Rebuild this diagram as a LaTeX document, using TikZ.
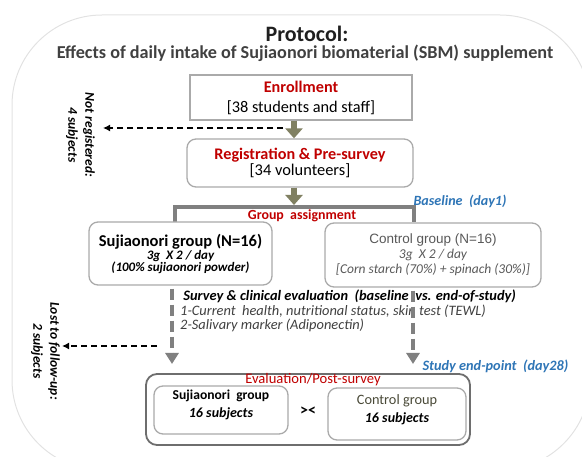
\documentclass[tikz,border=0pt]{standalone}
\usepackage{fontspec}
\setmainfont{Carlito}
\newfontfamily\arialfont{Liberation Sans}
\usetikzlibrary{arrows.meta}
\definecolor{protored}{RGB}{192,0,0}
\definecolor{daysblue}{RGB}{46,117,182}
\definecolor{arrowolive}{RGB}{128,128,98}
\definecolor{bracketgray}{RGB}{128,128,128}
\definecolor{boxgray}{RGB}{170,170,170}
\definecolor{evalgray}{RGB}{110,110,110}
\definecolor{framegray}{RGB}{226,226,226}
\definecolor{titlegray}{RGB}{64,64,64}
\definecolor{controlgray}{RGB}{89,89,89}
\definecolor{contrololive}{RGB}{74,74,56}

\begin{document}
\begin{tikzpicture}[x=1pt,y=-1pt,
    stepbox/.style={draw=boxgray, line width=1.3pt, fill=white, align=center, inner sep=0pt},
    roundbox/.style={stepbox, rounded corners=9pt},
    flowarrow/.style={arrowolive, line width=6pt, -{Triangle[width=17pt,length=10pt]}},
    dropline/.style={bracketgray, line width=4pt, dash pattern=on 11pt off 5pt, shorten <=3pt, -{Triangle[width=13pt,length=11pt]}},
    lossarrow/.style={black, line width=1.8pt, dash pattern=on 6pt off 4pt, -{Latex[length=7pt,width=7pt]}},
    sidenote/.style={rotate=-90, anchor=north, align=center, inner sep=1pt, font=\fontsize{13.5}{17}\selectfont\bfseries\itshape}]
    \clip (0,0) rectangle (582,457);
    \useasboundingbox (0,0) rectangle (582,457);

    % Frame
    \draw[framegray, line width=1pt, rounded corners=90pt] (12,15) rectangle (590,470);

    % Title
    \node[anchor=base, font=\fontsize{22}{24}\selectfont\bfseries, text=black!88] (title) at (307,42) {Protocol:};
    \node[anchor=base, font=\fontsize{18.2}{20}\selectfont\bfseries, text=titlegray] (subtitle) at (305,59)
        {Effects of daily intake of Sujiaonori biomaterial (SBM) supplement};

    % Enrollment and registration
    \node[stepbox, minimum width=222pt, minimum height=45pt, font=\fontsize{16.3}{20}\selectfont] (enroll) at (301,97.5)
        {{\fontsize{16.2}{20}\selectfont\bfseries\color{protored}Enrollment}\\ {[38 students and staff]}};
    \node[roundbox, minimum width=226pt, minimum height=48pt, font=\fontsize{16.4}{15.5}\selectfont] (regist) at (300,163)
        {{\fontsize{16.2}{15.5}\selectfont\bfseries\color{protored}Registration \& Pre-survey}\\ {[34 volunteers]}};

    \coordinate (arrowline) at (294,0);
    \draw[flowarrow] (enroll.south -| arrowline) -- (regist.north -| arrowline);

    % Not registered
    \node[sidenote] (notreg) at (96,135) {Not registered:\\ 4 subjects};
    \coordinate (regStart) at (283,128);
    \coordinate (notregTip) at (103,128);
    \draw[lossarrow] (regStart) -- (notregTip);

    % Group assignment
    \coordinate (brL) at (175,222);
    \coordinate (brTop) at (294,207);
    \coordinate (brR) at (414,222);
    \draw[bracketgray, line width=4pt] (brL) -- (brL |- brTop) -- (brR |- brTop) -- (brR);
    \draw[flowarrow, shorten >=2pt] (regist.south -| arrowline) -- (brTop);
    \node[font=\fontsize{13.9}{16}\selectfont\bfseries, text=protored] (assign) at (302,216) {Group~ assignment};
    \node[anchor=west, font=\fontsize{14.1}{16}\selectfont\bfseries\itshape, text=daysblue] (baseline) at (410,201) {Baseline~ (day1)};

    % Groups
    \node[roundbox, minimum width=183pt, minimum height=63pt, font=\fontsize{13}{12}\selectfont\bfseries\itshape] (sujiao) at (180.5,253.5)
        {{\fontsize{16.5}{15}\selectfont\upshape Sujiaonori group (N=16)}\\[1pt] 3g~~X 2 / day\\ (100\% sujiaonori powder)};
    \node[roundbox, minimum width=216pt, minimum height=64pt, font=\fontsize{13.5}{15}\selectfont\itshape, text=controlgray] (control) at (433,255)
        {{\arialfont\upshape\fontsize{13.5}{15}\selectfont Control group (N=16)}\\ 3g~~X 2 / day\\ {[Corn starch (70\%) + spinach (30\%)]}};

    % Survey
    \node[anchor=north west, align=left, inner sep=0pt, font=\fontsize{14.4}{14.5}\selectfont\itshape, text=titlegray] (survey) at (180,290)
        {{\bfseries\color{black}\ Survey \& clinical evaluation~ (baseline~ vs. end-of-study)}\\
         1-Current~ health, nutritional status, skin test (TEWL)\\
         2-Salivary marker (Adiponectin)};

    \coordinate (dropL) at (172,364);
    \coordinate (dropR) at (413,364);
    \draw[dropline] (sujiao.south -| dropL) -- (dropL);
    \draw[dropline] (control.south -| dropR) -- (dropR);

    % Lost to follow-up
    \node[sidenote] (lost) at (61,351) {Lost to follow-up:\\ 2 subjects};
    \coordinate (lossStart) at (157,346);
    \coordinate (lostTip) at (62,346);
    \draw[lossarrow] (lossStart) -- (lostTip);

    \node[anchor=west, font=\fontsize{14.3}{16}\selectfont\bfseries\itshape, text=daysblue] (endpoint) at (419,366) {Study end-point~ (day28)};

    % Evaluation
    \node[stepbox, draw=evalgray, line width=1.8pt, rounded corners=11pt, minimum width=324pt, minimum height=71pt] (eval) at (308,409.5) {};
    \node[font=\fontsize{14.6}{16}\selectfont, text=protored] (evallabel) at (313,380) {Evaluation/Post-survey};
    \node[roundbox, minimum width=134pt, minimum height=48pt] (evalS) at (221,410) {};
    \node[align=center, font=\fontsize{13.6}{18}\selectfont\bfseries] (evalStext) at ([yshift=5pt]evalS.center)
        {Sujiaonori~ group\\ {\fontsize{14}{18}\selectfont\itshape 16 subjects}};
    \node[roundbox, minimum width=138pt, minimum height=52pt] (evalC) at (397,414) {};
    \node[align=center, font=\fontsize{14.3}{18}\selectfont] (evalCtext) at ([yshift=4pt]evalC.center)
        {{\color{contrololive}Control group}\\ {\fontsize{14}{18}\selectfont\bfseries\itshape 16 subjects}};
    \node[font=\fontsize{16}{18}\selectfont\bfseries] (versus) at (308,411) {><};
\end{tikzpicture}
\end{document}
